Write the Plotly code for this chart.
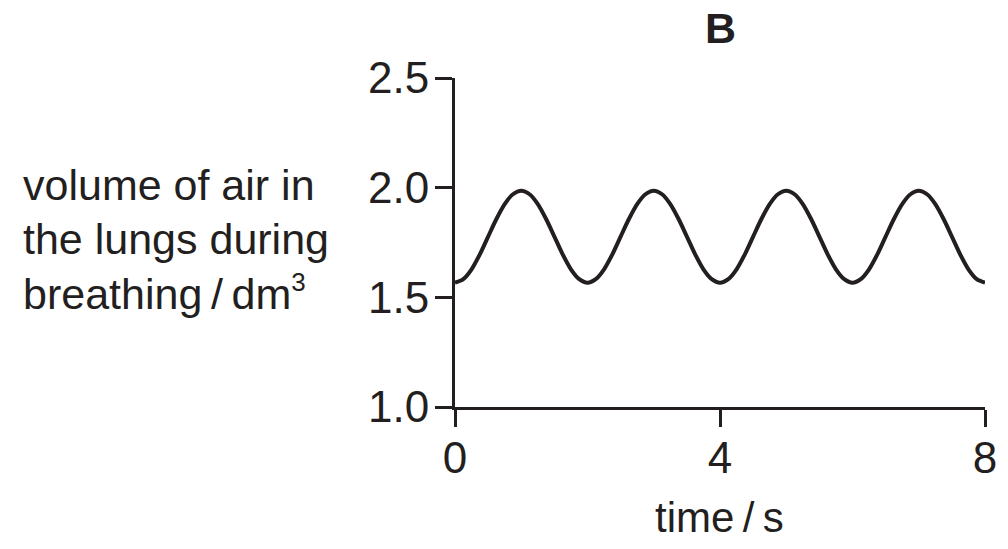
import plotly.graph_objects as go

# time (s) and volume (dm^3)
time_s = [0, 0.125, 0.25, 0.375, 0.5, 0.625, 0.75, 0.875,
          1, 1.125, 1.25, 1.375, 1.5, 1.625, 1.75, 1.875,
          2, 2.125, 2.25, 2.375, 2.5, 2.625, 2.75, 2.875,
          3, 3.125, 3.25, 3.375, 3.5, 3.625, 3.75, 3.875,
          4, 4.125, 4.25, 4.375, 4.5, 4.625, 4.75, 4.875,
          5, 5.125, 5.25, 5.375, 5.5, 5.625, 5.75, 5.875,
          6, 6.125, 6.25, 6.375, 6.5, 6.625, 6.75, 6.875,
          7, 7.125, 7.25, 7.375, 7.5, 7.625, 7.75, 7.875, 8]
volume = [1.567, 1.583, 1.628, 1.696, 1.777, 1.857, 1.925, 1.970,
          1.986, 1.970, 1.925, 1.857, 1.777, 1.696, 1.628, 1.583,
          1.567, 1.583, 1.628, 1.696, 1.777, 1.857, 1.925, 1.970,
          1.986, 1.970, 1.925, 1.857, 1.777, 1.696, 1.628, 1.583,
          1.567, 1.583, 1.628, 1.696, 1.777, 1.857, 1.925, 1.970,
          1.986, 1.970, 1.925, 1.857, 1.777, 1.696, 1.628, 1.583,
          1.567, 1.583, 1.628, 1.696, 1.777, 1.857, 1.925, 1.970,
          1.986, 1.970, 1.925, 1.857, 1.777, 1.696, 1.628, 1.583, 1.567]

x_ticks = [0, 4, 8]
y_ticks = [1.0, 1.5, 2.0, 2.5]

title_text = "<b>B</b>"
x_title = "time\u2009/\u2009s"
y_title_lines = ["volume of air in", "the lungs during",
                 "breathing\u2009/\u2009dm<sup><span style='font-size:26px'>3</span></sup>"]

INK = "#231f20"
FONT = "Liberation Sans, Arial, sans-serif"
W, H = 1008, 549
ML, MR, MT, MB = 455, 23, 78, 142
PW, PH = W - ML - MR, H - MT - MB

def px_to_paper_x(px):
    return (px - ML) / PW

def px_to_paper_y(py):
    return (H - MB - py) / PH

fig = go.Figure()
fig.add_trace(go.Scatter(
    x=time_s, y=volume, mode="lines",
    line=dict(color=INK, width=4, shape="spline", smoothing=0.8),
    hoverinfo="skip", showlegend=False,
))

axis_common = dict(
    showline=True, linecolor=INK, linewidth=3,
    ticks="outside", ticklen=17, tickwidth=3, tickcolor=INK,
    showgrid=False, zeroline=False,
    tickfont=dict(family=FONT, size=44, color=INK),
)

fig.update_xaxes(range=[0, 8], tickvals=x_ticks, ticklabelstandoff=-7, **axis_common)
fig.update_yaxes(range=[1.0, 2.5], tickvals=y_ticks, tickformat=".1f",
                 ticklabelstandoff=-3, **axis_common)

annotations = [
    dict(text=title_text, x=px_to_paper_x(720), y=px_to_paper_y(28),
         xref="paper", yref="paper", xanchor="center", yanchor="middle",
         showarrow=False, font=dict(family=FONT, size=43, color=INK)),
    dict(text=x_title, x=px_to_paper_x(719), y=px_to_paper_y(517),
         xref="paper", yref="paper", xanchor="center", yanchor="middle",
         showarrow=False, font=dict(family=FONT, size=42, color=INK)),
]
line_centers = [185, 238.5, 292]
for txt, yc in zip(y_title_lines, line_centers):
    annotations.append(dict(
        text=txt, x=px_to_paper_x(21), y=px_to_paper_y(yc),
        xref="paper", yref="paper", xanchor="left", yanchor="middle",
        showarrow=False, align="left",
        font=dict(family=FONT, size=43, color=INK)))

fig.update_layout(
    width=W, height=H,
    margin=dict(l=ML, r=MR, t=MT, b=MB),
    paper_bgcolor="white", plot_bgcolor="white",
    annotations=annotations,
)

fig.write_html("out.html")
